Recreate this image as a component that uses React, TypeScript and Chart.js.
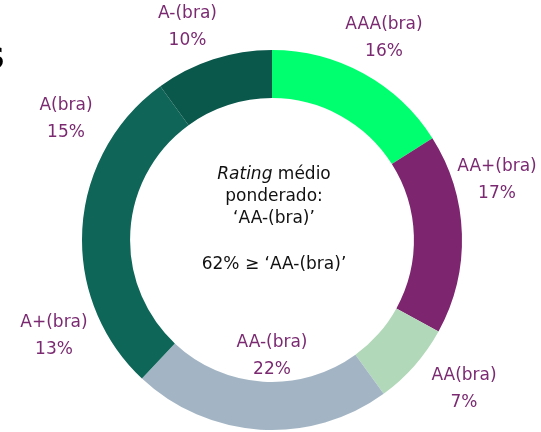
import React, { useEffect, useRef } from "react";
import { Chart, registerables } from "chart.js";

Chart.register(...registerables);

const categories = ["AAA(bra)", "AA+(bra)", "AA(bra)", "AA-(bra)", "A+(bra)", "A(bra)", "A-(bra)"];
const shares = [16, 17, 7, 22, 13, 15, 10];
const colors = ["#00FF6E", "#7E2570", "#B1D8B8", "#A3B5C4", "#0D6657", "#0F6558", "#0A574B"];
// label offsets (dx, dy) from the doughnut centre, purely layout
const labelOffsets: [number, number][] = [
  [112, -201.5],
  [225, -60],
  [192, 149.5],
  [0, 116],
  [-218, 96],
  [-206, -121],
  [-84.5, -212.5],
];
const centerLines = ["médio", "ponderado:", "‘AA-(bra)’", "", "62% ≥ ‘AA-(bra)’"];

const FONT = "'DejaVu Sans', sans-serif";
const LABEL_COLOR = "#7B2A72";

const labelPlugin = {
  id: "labels",
  afterDraw(chart: any) {
    const ctx = chart.ctx;
    const meta = chart.getDatasetMeta(0);
    const arc0 = meta.data[0];
    if (!arc0) return;
    const cx = arc0.x;
    const cy = arc0.y;
    ctx.save();
    ctx.textAlign = "center";
    ctx.textBaseline = "middle";
    ctx.fillStyle = LABEL_COLOR;
    ctx.font = `17px ${FONT}`;
    categories.forEach((c, i) => {
      const [dx, dy] = labelOffsets[i];
      ctx.fillText(c, cx + dx, cy + dy - 13.5);
      ctx.fillText(`${shares[i]}%`, cx + dx, cy + dy + 13.5);
    });
    // centre text
    ctx.fillStyle = "#111111";
    const lh = 21.7;
    const startY = cy - 65;
    ctx.font = `italic 17px ${FONT}`;
    const w1 = ctx.measureText("Rating ").width;
    ctx.font = `17px ${FONT}`;
    const w2 = ctx.measureText(centerLines[0]).width;
    const x0 = cx + 2 - (w1 + w2) / 2;
    ctx.textAlign = "left";
    ctx.font = `italic 17px ${FONT}`;
    ctx.fillText("Rating ", x0, startY);
    ctx.font = `17px ${FONT}`;
    ctx.fillText(centerLines[0], x0 + w1, startY);
    ctx.textAlign = "center";
    for (let i = 1; i < centerLines.length; i++) {
      if (centerLines[i]) ctx.fillText(centerLines[i], cx + 2, startY + lh * i + (i === 4 ? 3.2 : 0));
    }
    // cut-off title glyph at the left edge
    ctx.font = `bold 28px ${FONT}`;
    ctx.textAlign = "right";
    ctx.fillStyle = "#000";
    ctx.fillText("S", 5, 61);
    ctx.restore();
  },
};

export default function App() {
  const ref = useRef<HTMLCanvasElement>(null);
  useEffect(() => {
    document.body.style.margin = "0";
    const chart = new Chart(ref.current!, {
      type: "doughnut",
      data: {
        labels: categories,
        datasets: [
          {
            data: shares,
            backgroundColor: colors,
            borderWidth: 0,
          },
        ],
      },
      options: {
        responsive: false,
        animation: false,
        cutout: "74.7%",
        layout: { padding: { top: 50, bottom: 2, left: 82, right: 79 } },
        plugins: { legend: { display: false }, tooltip: { enabled: false } },
      },
      plugins: [labelPlugin],
    });
    return () => chart.destroy();
  }, []);
  return (
    <div style={{ width: 541, height: 432, background: "#fff" }}>
      <canvas ref={ref} width={541} height={432} />
    </div>
  );
}
